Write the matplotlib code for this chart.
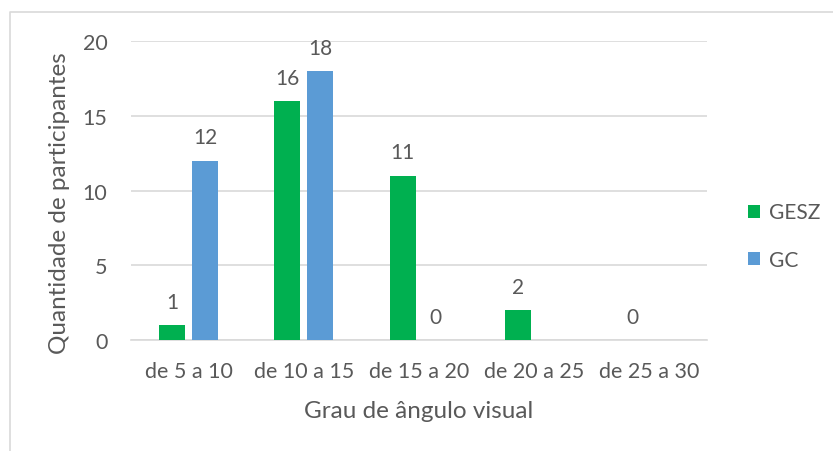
import numpy as np
import matplotlib
matplotlib.use("Agg")
import matplotlib.pyplot as plt
from matplotlib.lines import Line2D
from matplotlib.patches import Patch

categories = ["de 5 a 10", "de 10 a 15", "de 15 a 20", "de 20 a 25", "de 25 a 30"]
gesz = [1, 16, 11, 2, 0]
gc = [12, 18, 0, np.nan, np.nan]
series_names = ["GESZ", "GC"]
colors = ["#00B050", "#5B9BD5"]
yticks = [0, 5, 10, 15, 20]

plt.rcParams['font.family'] = ['Lato', 'DejaVu Sans']
txt = "#595959"

W, H = 833, 452
fig = plt.figure(figsize=(W / 100, H / 100), dpi=100)
ax = fig.add_axes([131 / W, 1 - 341 / H, (707 - 131) / W, (341 - 42) / H])

x = np.arange(len(categories))
bw = 0.226
off = 0.143
for vals, name, col, sgn in [(gesz, series_names[0], colors[0], -1), (gc, series_names[1], colors[1], 1)]:
    v = np.array(vals, dtype=float)
    mask = ~np.isnan(v)
    ax.bar(x[mask] + sgn * off, v[mask], width=bw, color=col, zorder=3, label=name)
    for xi, vi in zip(x[mask], v[mask]):
        ax.annotate(f"{int(vi)}", (xi + sgn * off, vi), xytext=(0, 9.5), textcoords="offset points",
                    ha="center", va="bottom", fontsize=15, color=txt)

ax.set_xlim(-0.5, len(categories) - 0.5)
ax.set_ylim(0, 20)
ax.set_yticks(yticks)
ax.set_xticks(x)
ax.set_xticklabels(categories)
ax.grid(axis="y", color="#D9D9D9", linewidth=1.2, zorder=0)
ax.set_axisbelow(True)
for s in ["top", "right", "left"]:
    ax.spines[s].set_visible(False)
ax.spines["bottom"].set_color("#D9D9D9")
ax.spines["bottom"].set_linewidth(1.2)
ax.tick_params(axis="both", length=0, labelsize=15.5, colors=txt)
ax.tick_params(axis="x", pad=15)
ax.tick_params(axis="y", pad=17)
ax.set_ylabel("Quantidade de participantes", fontsize=17.5, color=txt, labelpad=9)
ax.yaxis.label.set_y(0.46)
ax.set_xlabel("Grau de ângulo visual", fontsize=17.5, color=txt, labelpad=14)

handles = [Patch(facecolor=c, label=n) for c, n in zip(colors, series_names)]
fig.legend(handles=handles, loc="center left", bbox_to_anchor=(729 / W, 1 - 237 / H),
           frameon=False, fontsize=15, labelcolor=txt, handlelength=0.6, handleheight=0.6,
           handletextpad=0.4, labelspacing=1.3)

# chart border (top and left visible)
fig.add_artist(Line2D([10 / W, 10 / W, 1], [0, 1 - 13 / H, 1 - 13 / H], transform=fig.transFigure,
                      color="#D9D9D9", linewidth=1.2))

fig.savefig("out.png", dpi=100)
